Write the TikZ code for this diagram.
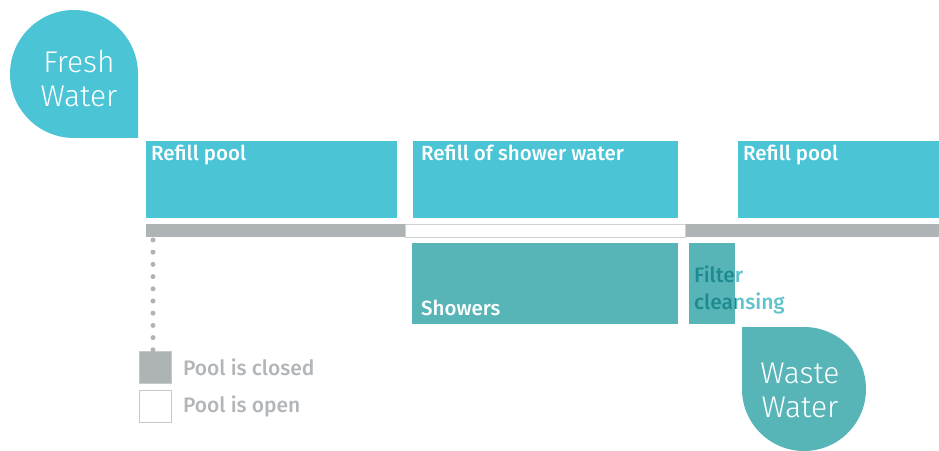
\documentclass[tikz,border=0pt]{standalone}
\usepackage{fontspec}
\setmainfont{Fira Sans}
\newfontfamily\lightfont{Fira Sans Light}
\newfontfamily\medfont{Fira Sans Medium}
\usetikzlibrary{positioning}
\definecolor{wcyan}{HTML}{4BC4D5}
\definecolor{wteal}{HTML}{57B5B8}
\definecolor{wdark}{HTML}{1E8A8F}
\definecolor{wlight}{HTML}{5FC3C9}
\definecolor{wgray}{HTML}{AEB3B6}
\definecolor{wtext}{HTML}{B2B6B9}

\begin{document}
\begin{tikzpicture}[x=1pt, y=1pt,
  boxlabel/.style={font=\medfont\fontsize{20.5}{22}\selectfont, text=white, inner sep=0pt},
  refillbox/.style={fill=wcyan, draw=none, inner sep=0pt, anchor=north west, minimum height=77},
  showerbox/.style={fill=wteal, draw=none, inner sep=0pt, anchor=north west, minimum height=81},
  droptext/.style={font=\lightfont\fontsize{30}{34}\selectfont, text=white, align=center},
  legendbox/.style={draw=wgray!70, line width=0.8pt, minimum size=32, inner sep=0pt, anchor=north west},
  legendtext/.style={font=\medfont\fontsize{21}{23}\selectfont, text=wtext, inner sep=0pt, anchor=west},
  filterlabel/.style={font=\medfont\fontsize{21}{27}\selectfont, align=left, anchor=north west, inner sep=0pt}]
  \useasboundingbox (0,0) rectangle (939,450);

  % drops
  \fill[wcyan] (138,312) -- (74,312) arc[start angle=270, end angle=0, radius=64] -- cycle;
  \node[droptext] (fresh) at (79,371) {Fresh\\Water};
  \fill[wteal] (742,123) -- (742,61) arc[start angle=180, end angle=450, radius=62] -- cycle;
  \node[droptext] (waste) at (800,60) {Waste\\Water};

  % top row
  \node[refillbox, minimum width=251] (refillA) at (146,309) {};
  \node[refillbox, minimum width=265] (refillS) at (413,309) {};
  \node[refillbox, minimum width=201] (refillB) at (738,309) {};
  \node[boxlabel, anchor=north west] at ([xshift=5pt, yshift=-4pt]refillA.north west) {Refill pool};
  \node[boxlabel, anchor=north west] at ([xshift=8pt, yshift=-4pt]refillS.north west) {Refill of shower water};
  \node[boxlabel, anchor=north west] at ([xshift=5pt, yshift=-4pt]refillB.north west) {Refill pool};

  % time bar
  \node[fill=wgray, inner sep=0pt, anchor=north west, minimum width=793, minimum height=13] (bar) at (146,226) {};
  \node[fill=white, draw=wgray!60, line width=0.8pt, inner sep=0pt, anchor=north west, minimum width=280, minimum height=13] (open) at (405,226) {};

  % lower row
  \node[showerbox, minimum width=266] (showers) at (412,207) {};
  \node[boxlabel, anchor=base west] at ([xshift=9pt, yshift=9pt]showers.south west) {Showers};
  \node[showerbox, minimum width=46] (filter) at (689,207) {};
  \node[filterlabel, text=wlight] (filtertext) at (694,184) {Filter\\cleansing};
  \begin{scope}
    \clip (filter.south west) rectangle (filter.north east);
    \node[filterlabel, text=wdark] at (694,184) {Filter\\cleansing};
  \end{scope}

  % legend
  \node[legendbox, fill=wgray] (closed) at (139,99) {};
  \node[legendbox, fill=white] (openbox) at (139,60) {};
  \node[legendtext] at ([xshift=11pt]closed.east) {Pool is closed};
  \node[legendtext] at ([xshift=11pt]openbox.east) {Pool is open};
  \draw[wgray, line width=5pt, line cap=round, dash pattern=on 0pt off 12.2pt] (153,210) -- (closed.north -| 153,0);
\end{tikzpicture}
\end{document}
